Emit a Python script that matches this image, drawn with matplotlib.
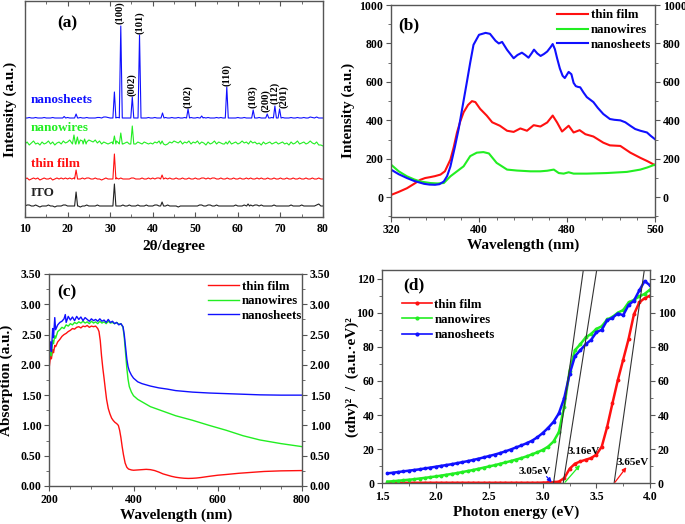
import numpy as np
import matplotlib
matplotlib.use("Agg")
import matplotlib.pyplot as plt
from matplotlib.ticker import MultipleLocator, FormatStrFormatter
from matplotlib.lines import Line2D

plt.rcParams['font.family'] = ['Liberation Serif', 'DejaVu Serif']
plt.rcParams['font.weight'] = 'bold'
plt.rcParams['axes.labelweight'] = 'bold'

# ---------------- (a) XRD ----------------
xrd_grid = np.arange(10, 80.01, 0.5)
ito_noise = [0, 1, 1, 0, 0, 1, 0, -1, 0, 0, 0, 1, 0, 0, -1, 0, 0, 0, 1, 1,
             0, 0, 0, 0, 0, 0, -1, 0, 0, 1, 0, 0, 0, 0, 1, 0, 0, 0, 0, 0,
             0, 0, 1, 0, 0, 0, 1, 0, 0, 1, 0, 0, 0, 1, 0, 0, 0, 1, 0, 0,
             0, 1, 1, 0, 0, 0, 0, 1, 0, 0, 0, 0, -1, 0, 0, 0, 0, 0, 0, 0,
             0, 0, 1, 1, 0, 0, 1, 1, 0, 0, 1, 0, 0, 0, 0, 0, 0, 0, 0, 1,
             0, 0, 0, 1, 0, 0, 1, 0, 1, 1, 0, 1, 0, 0, 0, 0, 0, 1, 0, 0,
             0, 0, 0, 0, 0, 1, 0, 0, 0, 0, 1, 0, 0, 0, 0, 0, 0, 1, 2, 0, 0]
film_noise = [0, 1, -1, 0, 1, 0, 1, -1, 0, 1, 0, 0, 1, -1, 0, 1, 0, 1, 0, 1,
              0, 1, 0, 1, 0, 0, 0, 1, 0, 1, 1, 0, 0, 1, 0, 0, -1, 0, 1, 0,
              0, 0, 0, 1, 0, 1, 0, 0, 0, 0, 1, 1, 0, 0, 0, 1, 0, 0, 1, 0,
              1, 0, 1, 1, 2, 1, 1, 0, 1, 0, 0, 1, 0, 0, 1, 0, 0, 1, 0, 0,
              1, 0, 0, 1, 1, 0, 1, 0, 1, 1, 0, 0, 1, 0, 0, 1, 0, 0, 1, 0,
              0, 1, 0, 0, 1, 0, 1, 0, 0, 1, 0, 1, 0, 0, 1, 0, 0, 1, 0, 0,
              1, 0, 0, 1, 0, 0, 1, 0, 0, 1, 0, 0, 1, 0, 0, 1, 0, 0, 1, 0, 0]
wires_noise = [0, 2, -1, 1, 3, 0, 1, -1, 2, 0, 1, 3, 0, 2, -1, 1, 2, 0, 3, 1,
               2, 4, 1, 3, 5, 2, 4, 3, 6, 2, 4, 3, 2, 4, 1, 3, 0, 2, 1, 0,
               1, 2, 0, 3, 1, 2, 0, 1, 2, 0, 1, 3, 0, 2, 1, 0, 2, 1, 0, 1,
               0, 2, 1, 3, 0, 1, -1, 0, 2, 1, 3, 2, 1, 3, 0, 2, 1, 3, 0, 2,
               1, 3, 0, 2, 1, -1, 2, 0, 1, 3, 0, 2, 1, 0, 2, 1, 3, 0, 1, 2,
               0, 1, 3, 1, 2, 0, 3, 1, 2, 0, 1, -1, 2, 0, 1, 2, 0, 1, 2, 0,
               1, 2, 0, 1, -1, 2, 0, 1, 3, 0, 1, 2, 0, 1, 3, 1, 0, 2, -1, -1, -2]
sheets_noise = [0, 0, 0.5, 0, 0, 0.5, 0, 0, 0, 0.5, 0, 0, 0, 0.5, 0, 0, 0, 0, 1, 1,
                0.5, 0, 0, 0, 0, 0, 0.5, 0, 0, 0.5, 0, 0, 0, 0, 0.5, 0.5, 0, 1, 1, 0.5,
                0, 0, 0, 0.5, 0.5, 0, 0, 0, 0, 0, 0.5, 0, 0, 0, 0, 0, 0, 0, 0.5, 0,
                0, 0.5, 0, 0, 0, 0, 0.5, 0, 0, 0.5, 0, 0, 0.5, 0, 0, 0.5, 0, 0, 0.5, 0,
                0, 0.5, 0, 0, 0.5, 0, 0.5, 0, 0, 0, 0.5, 0, 0.5, 0, 0, 0.5, 0, 0, 0, 0,
                0.5, 0, 0, 0.5, 0, 0, 0, 0.5, 0, 0, 0.5, 0, 0, 0, 0, 0, 0.5, 0, 0, 0,
                0, 0.5, 0, 0, 0, 0.5, 0, 0, 0.5, 0, 0, 0.5, 0, 0, 1, 0.5, 0, 1, 0, 0, 0]

ito_peak_pos = [22.0, 31.0, 42.2, 62.4]
ito_peak_h = [14, 22, 4, 2]
film_peak_pos = [22.0, 31.0, 42.2]
film_peak_h = [9, 25, 4]
wires_peak_pos = [21.5, 22.3, 24.0, 31.0, 32.5, 35.2, 42.2, 57.2]
wires_peak_h = [9, 7, 5, 8, 11, 18, 3, 2]
sheets_peak_pos = [19.2, 22.0, 31.0, 32.5, 35.2, 36.9, 42.3, 48.3, 51.5, 57.4, 63.6, 66.9, 68.7, 69.8]
sheets_peak_h = [1.5, 4, 26, 92, 21, 83, 5, 9, 2, 31, 8, 4, 12, 9]

hkl_labels = ['(100)', '(002)', '(101)', '(102)', '(110)', '(103)', '(200)', '(112)', '(201)']
hkl_peak_index = [3, 4, 5, 7, 9, 10, 11, 12, 13]
hkl_label_x = [32.2, 35.1, 36.9, 48.3, 57.3, 63.4, 66.5, 68.7, 70.8]

series_a = ['ITO', 'thin film', 'nanowires', 'nanosheets']

# ---------------- (b) PL ----------------
pl_film_x = [320, 327, 334.5, 341, 346.7, 351, 355.8, 360, 365, 369, 374, 377, 380, 383, 386, 390,
             393.6, 396.7, 401, 407, 412, 419, 425.5, 431.5, 437.6, 443.6, 449.7, 455.8, 462, 467,
             471, 475.5, 481.5, 486, 491.5, 496.7, 504, 513, 519, 528.5, 537.6, 546.7, 553, 560]
pl_film_y = [12, 28, 47, 70, 91, 100, 105, 110, 118, 135, 196, 260, 337, 395, 442, 480,
             500, 495, 460, 425, 390, 372, 346, 340, 358, 346, 375, 368, 389, 425,
             389, 342, 372, 337, 349, 328, 316, 284, 270, 267, 232, 205, 188, 167]
pl_wires_x = [320, 327, 334.5, 341, 346.7, 355.8, 362, 368, 374, 380, 386, 392, 398, 404, 409,
              416, 425.5, 434.5, 446.7, 455.8, 462, 468, 472.5, 477, 481.5, 486, 498, 516, 534.5,
              546.7, 553, 560]
pl_wires_y = [170, 135, 109, 93, 82, 74, 72, 74, 109, 135, 161, 214, 232, 235, 228,
              179, 144, 139, 135, 135, 138, 144, 126, 123, 130, 123, 123, 126, 132,
              144, 155, 170]
pl_sheets_x = [320, 327, 334.5, 341, 350, 355, 360, 364, 368, 371, 374, 378, 381.5, 385, 389, 392,
               395, 400, 406, 410, 415, 418, 421, 425.5, 431.5, 435, 439, 442, 445, 448, 450, 453,
               456, 459, 462, 465, 467, 469, 471, 473.5, 476, 478, 481.5, 484, 486, 488, 490, 492,
               495, 498, 504, 508, 513, 519, 523, 528.5, 533, 537.5, 542, 546.7, 552.7, 556, 560]
pl_sheets_y = [144, 120, 100, 85, 70, 66, 65, 68, 82, 110, 160, 260, 355, 470, 600, 700,
               793, 845, 855, 850, 814, 800, 808, 767, 723, 740, 752, 740, 726, 750, 768, 748,
               735, 745, 758, 780, 797, 770, 723, 670, 632, 620, 652, 640, 595, 578, 574, 572,
               545, 521, 495, 465, 433, 407, 403, 400, 390, 372, 355, 346, 337, 320, 302]

# ---------------- (c) absorption ----------------
abs_film_x = [200, 203, 205, 208, 210, 213, 215, 220, 225, 230, 235, 240, 245, 250, 255, 260, 265,
              270, 275, 280, 285, 290, 295, 300, 305, 310, 315, 318, 321, 324, 327, 330, 333, 336,
              340, 344, 348, 352, 356, 360, 364, 367, 370, 373, 376, 380, 384, 388, 395, 400, 410,
              420, 430, 440, 450, 460, 470, 480, 490, 500, 510, 520, 530, 540, 550, 560, 580, 600,
              620, 650, 680, 710, 750, 800]
abs_film_y = [1.97, 2.15, 2.10, 2.25, 2.20, 2.32, 2.30, 2.38, 2.42, 2.47, 2.50, 2.52, 2.55, 2.57,
              2.60, 2.59, 2.62, 2.63, 2.61, 2.64, 2.63, 2.65, 2.62, 2.64, 2.63, 2.64, 2.60, 2.55,
              2.40, 2.15, 1.95, 1.78, 1.60, 1.43, 1.28, 1.19, 1.12, 1.08, 1.05, 1.03, 1.00, 0.92,
              0.80, 0.65, 0.52, 0.38, 0.31, 0.28, 0.265, 0.26, 0.265, 0.27, 0.275, 0.27, 0.255,
              0.23, 0.20, 0.18, 0.16, 0.145, 0.135, 0.128, 0.125, 0.127, 0.132, 0.14, 0.16, 0.178,
              0.19, 0.21, 0.225, 0.24, 0.25, 0.255]
abs_wires_x = [200, 203, 205, 208, 210, 213, 215, 220, 225, 230, 235, 240, 245, 250, 255, 260, 265,
               270, 275, 280, 285, 290, 295, 300, 305, 310, 315, 320, 325, 330, 335, 340, 345, 350,
               355, 360, 365, 370, 375, 378, 381, 384, 387, 390, 395, 400, 410, 420, 440, 460, 480,
               500, 540, 580, 620, 660, 700, 750, 800]
abs_wires_y = [2.12, 2.25, 2.15, 2.40, 2.35, 2.48, 2.44, 2.55, 2.58, 2.62, 2.60, 2.66, 2.64, 2.68,
               2.66, 2.70, 2.68, 2.71, 2.69, 2.72, 2.69, 2.71, 2.68, 2.72, 2.69, 2.71, 2.68, 2.72,
               2.69, 2.71, 2.68, 2.72, 2.69, 2.70, 2.68, 2.70, 2.67, 2.68, 2.62, 2.45, 2.20, 1.95,
               1.76, 1.64, 1.55, 1.49, 1.43, 1.39, 1.31, 1.26, 1.21, 1.16, 1.085, 1.00, 0.92, 0.83,
               0.76, 0.70, 0.65]
abs_sheets_x = [200, 203, 205, 208, 210, 213, 215, 220, 225, 230, 235, 238, 240, 245, 250, 255, 260,
                265, 270, 275, 280, 285, 290, 295, 300, 305, 310, 315, 320, 325, 330, 335, 340, 345,
                350, 355, 360, 365, 370, 375, 378, 381, 384, 387, 390, 395, 400, 410, 420, 440, 460,
                480, 500, 540, 580, 620, 660, 700, 750, 800]
abs_sheets_y = [2.20, 2.38, 2.22, 2.60, 2.45, 2.78, 2.58, 2.66, 2.70, 2.72, 2.76, 2.83, 2.70, 2.80,
                2.74, 2.79, 2.73, 2.80, 2.75, 2.79, 2.73, 2.78, 2.75, 2.72, 2.76, 2.73, 2.75, 2.72,
                2.76, 2.72, 2.74, 2.70, 2.75, 2.70, 2.72, 2.68, 2.70, 2.66, 2.68, 2.63, 2.50, 2.30,
                2.10, 1.97, 1.90, 1.83, 1.78, 1.72, 1.69, 1.65, 1.62, 1.60, 1.575, 1.55, 1.535,
                1.525, 1.515, 1.505, 1.50, 1.50]

# ---------------- (d) Tauc ----------------
tauc_x = np.round(np.arange(1.55, 4.001, 0.05), 2)
tauc_film = [0.3, 0.3, 0.3, 0.3, 0.3, 0.3, 0.3, 0.3, 0.3, 0.3, 0.3, 0.3, 0.3, 0.3, 0.3, 0.3,
             0.3, 0.3, 0.3, 0.3, 0.3, 0.3, 0.3, 0.3, 0.3, 0.3, 0.3, 0.3, 0.3, 0.4, 0.5, 0.6,
             1.0, 3.0, 8.5, 11.5, 12.8, 13.8, 14.8, 16.8, 21.5, 33.0, 47.0, 60.5, 72.5, 84.5,
             99.0, 106.0, 108.5, 110.0]
tauc_wires = [1.0, 1.2, 1.5, 1.8, 2.1, 2.4, 2.8, 3.2, 3.6, 4.0, 4.5, 5.0, 5.5, 6.0, 6.6, 7.2,
              7.8, 8.5, 9.2, 9.9, 10.6, 11.4, 12.2, 13.0, 13.9, 14.8, 15.8, 17.0, 18.2, 19.6,
              21.5, 24.5, 30.0, 45.0, 66.0, 78.0, 81.5, 85.5, 87.5, 90.5, 92.0, 96.0, 97.5,
              100.0, 101.5, 106.0, 107.5, 109.5, 111.0, 113.5]
tauc_sheets = [5.8, 6.2, 6.6, 7.0, 7.4, 7.8, 8.2, 8.7, 9.2, 9.7, 10.2, 10.7, 11.2, 11.8, 12.4,
               13.0, 13.7, 14.4, 15.2, 16.0, 16.8, 17.7, 18.7, 19.8, 21.0, 22.2, 23.5, 25.0,
               27.0, 29.5, 32.5, 36.0, 41.0, 50.0, 64.0, 74.5, 78.0, 81.5, 84.0, 88.5, 90.0,
               95.5, 97.0, 99.5, 98.5, 104.5, 107.0, 113.0, 118.5, 116.0]
gap_values = [3.05, 3.16, 3.65]
gap_labels = ['3.05eV', '3.16eV', '3.65eV']
tangent_x0 = [3.10, 3.19, 3.665]
tangent_x1 = [3.378, 3.503, 3.947]

series_names = ['thin film', 'nanowires', 'nanosheets']
RED, GREEN, BLUE, BLACK = '#ff1010', '#22ee22', '#1010ff', '#222222'

fig = plt.figure(figsize=(6.85, 5.24), dpi=100)
TICK_FS = 8.5
LABEL_FS = 11
LEG_FS = 9.3


def style_axes(ax, direction='out'):
    for s in ax.spines.values():
        s.set_color('#555555')
        s.set_linewidth(1.0)
    ax.tick_params(which='both', direction=direction, labelsize=TICK_FS, color='#555555', pad=2)
    ax.tick_params(which='major', length=3.5)
    ax.tick_params(which='minor', length=2)


# ---- panel (a)
axa = fig.add_axes([25 / 685, 1 - 217 / 524, 298 / 685, 216 / 524])
style_axes(axa, 'in')
axa.tick_params(axis='x', pad=4)
offsets_a = [11, 38, 73, 99]
noises = [ito_noise, film_noise, wires_noise, sheets_noise]
ppos = [ito_peak_pos, film_peak_pos, wires_peak_pos, sheets_peak_pos]
ph = [ito_peak_h, film_peak_h, wires_peak_h, sheets_peak_h]
cols_a = [BLACK, RED, GREEN, BLUE]
hw = 0.35
for noise, pos, hh, off, c in zip(noises, ppos, ph, offsets_a, cols_a):
    noise = np.asarray(noise, float)
    keep = np.ones(len(xrd_grid), bool)
    for p in pos:
        keep &= np.abs(xrd_grid - p) > hw
    xs = list(xrd_grid[keep])
    ys = list(noise[keep])
    for p, h in zip(pos, hh):
        xs += [p - hw, p, p + hw]
        ys += [0, h, 0]
    order = np.argsort(xs)
    axa.plot(np.asarray(xs)[order], np.asarray(ys)[order] + off, color=c, lw=0.8)

for lab, idx, lx in zip(hkl_labels, hkl_peak_index, hkl_label_x):
    top = offsets_a[3] + sheets_peak_h[idx]
    axa.text(lx, top + 1.5, lab, rotation=90, ha='center', va='bottom', fontsize=7.6, fontweight='bold')

label_y_a = [24, 53, 89, 117]
for name, y, c in zip(series_a, label_y_a, cols_a):
    axa.text(11.3, y, name, color=c, fontsize=9.5, fontweight='bold', va='center', ha='left')

axa.set_xlim(10, 80)
axa.set_ylim(0, 216)
axa.set_yticks([])
axa.xaxis.set_major_locator(MultipleLocator(10))
axa.xaxis.set_minor_locator(MultipleLocator(5))
axa.tick_params(top=True, which='both')
axa.tick_params(labeltop=False)
axa.set_xlabel('2θ/degree', fontsize=LABEL_FS)
axa.set_ylabel('Intensity (a.u.)', fontsize=LABEL_FS)
axa.xaxis.set_label_coords(0.5, -0.105)
axa.yaxis.set_label_coords(-0.027, 0.5)
axa.text(0.107, 0.898, '(a)', transform=axa.transAxes, fontsize=12.5, fontweight='bold', va='center')

# ---- panel (b)
axb = fig.add_axes([391 / 685, 1 - 216.5 / 524, 264 / 685, 211.5 / 524])
style_axes(axb)
axb.plot(pl_film_x, pl_film_y, color=RED, lw=1.5, label=series_names[0])
axb.plot(pl_wires_x, pl_wires_y, color=GREEN, lw=1.5, label=series_names[1])
axb.plot(pl_sheets_x, pl_sheets_y, color=BLUE, lw=1.5, label=series_names[2])
axb.set_xlim(320, 560)
axb.set_ylim(-100, 1000)
axb.xaxis.set_major_locator(MultipleLocator(80))
axb.xaxis.set_minor_locator(MultipleLocator(16))
axb.yaxis.set_major_locator(MultipleLocator(200))
axb.yaxis.set_minor_locator(MultipleLocator(100))
axb.tick_params(which='both', right=True, labelright=True)
axb.set_xlabel('Wavelength (nm)', fontsize=LABEL_FS)
axb.set_ylabel('Intensity (a.u.)', fontsize=LABEL_FS)
axb.xaxis.set_label_coords(0.5, -0.106)
axb.yaxis.set_label_coords(-0.136, 0.5)
axb.legend(loc='upper left', bbox_to_anchor=(0.629, 0.979), frameon=False, fontsize=LEG_FS,
           borderpad=0, handlelength=2.4, handletextpad=0.2, labelspacing=0.2, borderaxespad=0)
axb.text(0.027, 0.905, '(b)', transform=axb.transAxes, fontsize=12.5, fontweight='bold', va='center')

# ---- panel (c)
axc = fig.add_axes([49.3 / 685, 1 - 486 / 524, 252.7 / 685, 212 / 524])
style_axes(axc)
axc.plot(abs_film_x, abs_film_y, color=RED, lw=1.0, label=series_names[0])
axc.plot(abs_wires_x, abs_wires_y, color=GREEN, lw=1.0, label=series_names[1])
axc.plot(abs_sheets_x, abs_sheets_y, color=BLUE, lw=1.0, label=series_names[2])
axc.set_xlim(200, 800)
axc.set_ylim(0, 3.5)
axc.xaxis.set_major_locator(MultipleLocator(200))
axc.xaxis.set_minor_locator(MultipleLocator(50))
axc.yaxis.set_major_locator(MultipleLocator(0.5))
axc.yaxis.set_minor_locator(MultipleLocator(0.25))
axc.yaxis.set_major_formatter(FormatStrFormatter('%.2f'))
axc.tick_params(which='both', right=True, labelright=True)
axc.set_xlabel('Wavelength (nm)', fontsize=LABEL_FS)
axc.set_ylabel('Absorption (a.u.)', fontsize=LABEL_FS)
axc.xaxis.set_label_coords(0.5, -0.108)
axc.yaxis.set_label_coords(-0.144, 0.5)
axc.legend(loc='upper left', bbox_to_anchor=(0.628, 0.969), frameon=False, fontsize=LEG_FS,
           borderpad=0, handlelength=2.4, handletextpad=0.2, labelspacing=0.2, borderaxespad=0)
axc.text(0.03, 0.915, '(c)', transform=axc.transAxes, fontsize=12.5, fontweight='bold', va='center')

# ---- panel (d)
axd = fig.add_axes([382 / 685, 1 - 483.3 / 524, 268 / 685, 213.3 / 524])
style_axes(axd)
handles = []
for yv, c, nm in zip([tauc_film, tauc_wires, tauc_sheets], [RED, GREEN, BLUE], series_names):
    axd.plot(tauc_x, yv, color=c, lw=1.8, marker='.', ms=3.5)
    handles.append(Line2D([], [], color=c, lw=1.2, marker='.', ms=4, label=nm))
for x0, x1 in zip(tangent_x0, tangent_x1):
    axd.plot([x0, x1], [0, 125], color='#333333', lw=0.8)
axd.set_xlim(1.5, 4.0)
axd.set_ylim(0, 125)
axd.xaxis.set_major_locator(MultipleLocator(0.5))
axd.xaxis.set_minor_locator(MultipleLocator(0.25))
axd.yaxis.set_major_locator(MultipleLocator(20))
axd.yaxis.set_minor_locator(MultipleLocator(10))
axd.xaxis.set_major_formatter(FormatStrFormatter('%.1f'))
axd.tick_params(which='both', right=True, labelright=True)
axd.set_xlabel('Photon energy (eV)', fontsize=LABEL_FS)
axd.set_ylabel('(αhv)²  /  (a.u.·eV)²', fontsize=LABEL_FS)
axd.xaxis.set_label_coords(0.5, -0.103)
axd.yaxis.set_label_coords(-0.085, 0.5)
axd.legend(handles=handles, loc='upper left', bbox_to_anchor=(0.075, 0.866), frameon=False,
           fontsize=LEG_FS, borderpad=0, handlelength=2.3, handletextpad=0.2, labelspacing=0.25,
           borderaxespad=0)
axd.text(0.078, 0.93, '(d)', transform=axd.transAxes, fontsize=12.5, fontweight='bold', va='center')

# gap annotations
text_xy = [(2.92, 7), (3.385, 18.5), (3.835, 12)]
arrow_from = [(3.036, 3.9), (3.207, 0.6), (3.673, 0.6)]
arrow_to = [(3.083, 0.6), (3.347, 10.7), (3.78, 9.4)]
for lab, txy, a0, a1, c in zip(gap_labels, text_xy, arrow_from, arrow_to, [BLUE, GREEN, RED]):
    axd.text(txy[0], txy[1], lab, ha='center', va='center', fontsize=8, fontweight='bold')
    axd.annotate('', xy=a1, xytext=a0,
                 arrowprops=dict(arrowstyle='-|>', color=c, lw=0.9, mutation_scale=6,
                                 shrinkA=0, shrinkB=0))

fig.savefig('out.png', dpi=100)
